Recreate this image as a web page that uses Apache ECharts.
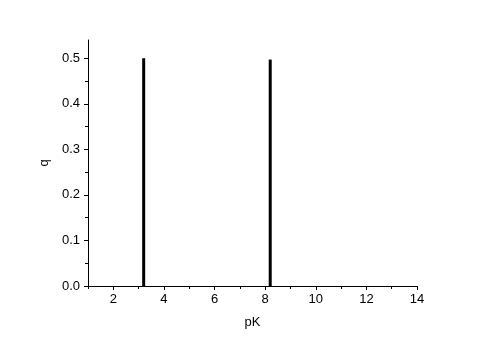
<!DOCTYPE html>
<html><head><meta charset="utf-8">
<script src="https://cdn.jsdelivr.net/npm/echarts@6/dist/echarts.min.js"></script>
<style>html,body{margin:0;padding:0;background:#fff}#c{width:487px;height:344px}</style>
</head><body><div id="c"></div>
<script>
var peakPK = [3.2, 8.2];
var peakQ = [0.5, 0.497];
var xMajor = [2, 4, 6, 8, 10, 12, 14];
var xMinor = [1, 3, 5, 7, 9, 11, 13];
var yMajor = [0, 0.1, 0.2, 0.3, 0.4, 0.5];
var yMinor = [0.05, 0.15, 0.25, 0.35, 0.45];

var font = 'Liberation Sans, Arial, sans-serif';
var chart = echarts.init(document.getElementById('c'), null, {renderer: 'canvas'});
var axisLine = {show: true, onZero: false, lineStyle: {color: '#000', width: 1}};
chart.setOption({
  animation: false,
  grid: {left: 88, right: 70, top: 40, bottom: 58},
  xAxis: [{
    type: 'value', min: 1, max: 14, position: 'bottom',
    name: 'pK', nameLocation: 'middle', nameGap: 30,
    nameTextStyle: {color: '#000', fontFamily: font, fontSize: 13},
    axisLine: axisLine,
    axisTick: {show: true, length: 4, customValues: xMajor, lineStyle: {color: '#000'}},
    axisLabel: {show: true, customValues: xMajor, color: '#000', fontFamily: font, fontSize: 13, margin: 7},
    splitLine: {show: false}
  }, {
    type: 'value', min: 1, max: 14, position: 'bottom',
    axisLine: {show: false},
    axisTick: {show: true, length: 3, customValues: xMinor, lineStyle: {color: '#000'}},
    axisLabel: {show: false},
    splitLine: {show: false}
  }],
  yAxis: [{
    type: 'value', min: 0, max: 0.54, position: 'left',
    name: 'q', nameLocation: 'middle', nameGap: 27, nameRotate: 90,
    nameTextStyle: {color: '#000', fontFamily: font, fontSize: 13},
    axisLine: axisLine,
    axisTick: {show: true, length: 4, customValues: yMajor, lineStyle: {color: '#000'}},
    axisLabel: {show: true, customValues: yMajor, color: '#000', fontFamily: font, fontSize: 13, margin: 8,
      formatter: function (v) { return v.toFixed(1); }},
    splitLine: {show: false}
  }, {
    type: 'value', min: 0, max: 0.54, position: 'left',
    axisLine: {show: false},
    axisTick: {show: true, length: 3, customValues: yMinor, lineStyle: {color: '#000'}},
    axisLabel: {show: false},
    splitLine: {show: false}
  }],
  series: [{
    type: 'bar', xAxisIndex: 0, yAxisIndex: 0,
    barWidth: 3,
    itemStyle: {color: '#000'},
    data: peakPK.map(function (p, i) { return [p, peakQ[i]]; })
  }]
});
</script></body></html>
